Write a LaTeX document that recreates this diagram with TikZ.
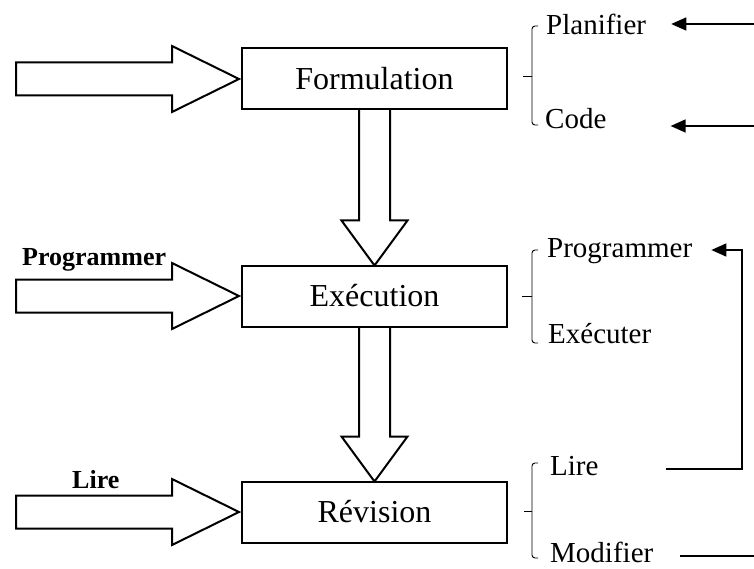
\documentclass[tikz,border=0pt]{standalone}
\usepackage{fontspec}
\setmainfont{Liberation Serif}
\usetikzlibrary{calc,arrows.meta}
\begin{document}
\begin{tikzpicture}[x=1pt,y=-1pt,
 box/.style={draw,line width=2pt,minimum width=265pt,minimum height=61pt,inner sep=0pt,outer sep=0pt,font=\fontsize{32}{36}\selectfont},
 fat/.style={draw,line width=2pt,line join=miter},
 side/.style={inner sep=0pt,anchor=base west,font=\fontsize{29}{32}\selectfont},
 lbl/.style={inner sep=0pt,anchor=base west,font=\fontsize{26}{28}\selectfont\bfseries},
 brace/.style={line width=0.9pt,rounded corners=3pt},
 link/.style={line width=1.5pt},
 back/.style={line width=1.5pt,-{Triangle[length=15pt,width=13pt]}},
 rarrow/.pic={\path[fat] (-223,-16.5) -- (-67,-16.5) -- (-67,-33) -- (0,0) -- (-67,33) -- (-67,16.5) -- (-223,16.5) -- cycle;}
]
\useasboundingbox (0,0) rectangle (754,569);

% boxes
\node[box] (F) at (374.5,79) {Formulation};
\node[box] (E) at (374.5,296) {Exécution};
\node[box] (R) at (374.5,512) {Révision};

% left input arrows
\pic at ($(F.west)+(-3,0)$) {rarrow};
\pic at ($(E.west)+(-3,0)$) {rarrow};
\pic at ($(R.west)+(-3,0)$) {rarrow};

\node[lbl] (lp) at (22,265) {Programmer};
\node[lbl] (ll) at (72,488) {Lire};

% down arrows
\path[fat] ($(F.south)+(-15.5,0)$) -- ($(E.north)+(-15.5,-45)$) -- ($(E.north)+(-33,-45)$) -- (E.north)
  -- ($(E.north)+(33,-45)$) -- ($(E.north)+(15.5,-45)$) -- ($(F.south)+(15.5,0)$);
\path[fat] ($(E.south)+(-15.5,0)$) -- ($(R.north)+(-15.5,-45)$) -- ($(R.north)+(-33,-45)$) -- (R.north)
  -- ($(R.north)+(33,-45)$) -- ($(R.north)+(15.5,-45)$) -- ($(E.south)+(15.5,0)$);

% braces
\draw[brace] (538,26) -- (532,26) -- (532,125) -- (538,125);
\draw[line width=0.9pt] (523,76) -- (532,76);
\draw[brace] (538,250) -- (532,250) -- (532,343) -- (538,343);
\draw[line width=0.9pt] (522,296) -- (532,296);
\draw[brace] (538,463) -- (532,463) -- (532,558) -- (538,558);
\draw[line width=0.9pt] (524,511) -- (532,511);

% side texts
\node[side] (pl) at (546,35) {Planifier};
\node[side] (co) at (545,129) {Code};
\node[side] (pr) at (547,257) {Programmer};
\node[side] (ex) at (548,343) {Exécuter};
\node[side] (li) at (550,475) {Lire};
\node[side] (mo) at (550,562) {Modifier};

% right connectors
\coordinate (plR) at (754,24);
\coordinate (coR) at (754,126);
\coordinate (moR) at (754,556);
\draw[back] (plR) -- ($(pl.east |- plR)+(25,0)$);
\draw[back] (coR) -- ($(co.east |- coR)+(64,0)$);
\draw[back] ($(li.east |- 0,469)+(67,0)$) -- (742,469) -- (742,250) -- ($(pr.east |- 0,250)+(19,0)$);
\draw[link] ($(mo.east |- moR)+(27,0)$) -- (moR);
\end{tikzpicture}
\end{document}
